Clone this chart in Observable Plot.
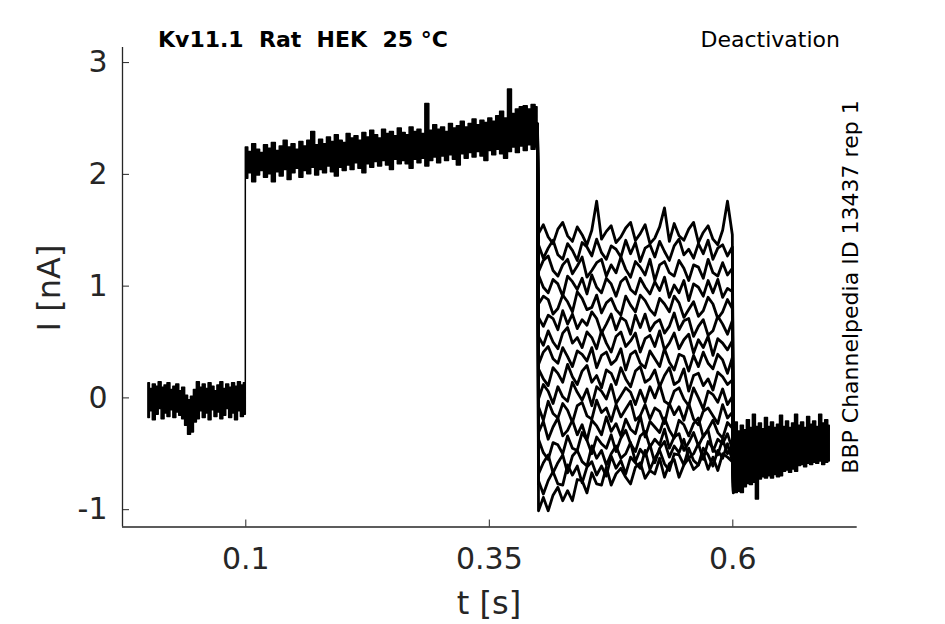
<!DOCTYPE html>
<html>
<head>
<meta charset="utf-8">
<script src="https://cdn.jsdelivr.net/npm/d3@7"></script>
<script src="https://cdn.jsdelivr.net/npm/@observablehq/plot@0.6"></script>
<style>
  html, body { margin: 0; padding: 0; background: #fff; }
  #chart { width: 945px; height: 624px; }
</style>
</head>
<body>
<div id="chart"></div>
<script>
// ---------- Data ----------
const xTicks = [0.1, 0.35, 0.6];
const xTickLabels = ["0.1", "0.35", "0.6"];
const yTicks = [-1, 0, 1, 2, 3];
const yTickLabels = ["-1", "0", "1", "2", "3"];

// holding period 0 – 0.1 s : noise envelope (nA)
const holdTimeRange = [0.0, 0.0995];
const holdHi = [0.13,0.08,0.12,0.10,0.14,0.09,0.11,0.13,0.07,0.10,0.12,0.06,0.09,0.02,-0.02,0.01,0.07,0.14,0.09,0.12,0.08,0.13,0.10,0.06,0.11,0.14,0.08,0.12,0.09,0.13,0.10,0.14,0.11,0.13];
const holdLo = [-0.18,-0.12,-0.20,-0.15,-0.10,-0.19,-0.14,-0.17,-0.11,-0.18,-0.13,-0.16,-0.19,-0.25,-0.33,-0.31,-0.22,-0.19,-0.12,-0.18,-0.14,-0.20,-0.11,-0.17,-0.13,-0.19,-0.16,-0.10,-0.18,-0.14,-0.20,-0.12,-0.17,-0.15];

// activation step 0.1 – 0.4 s : noise envelope (nA)
const actTimeRange = [0.1005, 0.3995];
const actHi = [2.24,2.20,2.27,2.22,2.19,2.26,2.23,2.28,2.21,2.25,2.30,2.24,2.27,2.22,2.29,2.25,2.30,2.38,2.26,2.31,2.27,2.33,2.29,2.35,2.30,2.28,2.36,2.32,2.34,2.30,2.37,2.33,2.39,2.35,2.32,2.40,2.36,2.38,2.34,2.41,2.37,2.35,2.42,2.38,2.40,2.36,2.63,2.39,2.44,2.40,2.42,2.38,2.45,2.41,2.43,2.47,2.42,2.45,2.49,2.44,2.48,2.46,2.50,2.47,2.52,2.56,2.50,2.76,2.54,2.58,2.60,2.61,2.58,2.62,2.60];
const actLo = [1.96,2.01,1.93,1.99,2.03,1.97,2.00,1.93,2.02,1.98,2.04,1.95,2.01,2.05,1.97,2.03,2.00,2.06,1.99,2.04,2.01,2.07,2.02,1.98,2.06,2.03,2.08,2.04,2.10,2.05,2.01,2.09,2.06,2.11,2.07,2.12,2.08,2.04,2.13,2.09,2.12,2.09,2.05,2.13,2.10,2.14,2.07,2.12,2.15,2.10,2.16,2.12,2.17,2.13,2.08,2.18,2.14,2.19,2.15,2.20,2.16,2.12,2.21,2.17,2.22,2.18,2.14,2.20,2.24,2.19,2.25,2.21,2.26,2.22,2.24];

// deactivation steps 0.4 – 0.6 s : one trace per test potential (nA)
const deactPrestep = 2.45;
const deactTimeRange = [0.4005, 0.5995];
const deactCurrents = [
  [1.47,1.55,1.44,1.38,1.51,1.57,1.45,1.40,1.53,1.46,1.37,1.50,1.76,1.42,1.49,1.54,1.39,1.44,1.52,1.57,1.41,1.47,1.55,1.38,1.43,1.53,1.70,1.40,1.56,1.45,1.41,1.51,1.57,1.39,1.48,1.54,1.42,1.37,1.50,1.76,1.46],
  [1.37,1.25,1.34,1.41,1.28,1.24,1.38,1.32,1.23,1.39,1.35,1.27,1.42,1.30,1.24,1.36,1.33,1.26,1.41,1.29,1.39,1.22,1.34,1.37,1.26,1.40,1.31,1.23,1.36,1.42,1.28,1.33,1.25,1.38,1.29,1.41,1.24,1.34,1.37,1.27,1.35],
  [1.13,1.23,1.27,1.14,1.09,1.19,1.24,1.11,1.18,1.26,1.08,1.14,1.21,1.24,1.09,1.19,1.12,1.26,1.15,1.08,1.22,1.17,1.10,1.24,1.05,1.19,1.22,1.12,1.09,1.23,1.16,1.05,1.19,1.17,1.07,1.24,1.12,1.09,1.21,1.10,1.16],
  [1.10,0.99,0.94,1.06,1.02,0.91,1.09,1.04,0.97,1.07,0.93,1.10,0.99,0.94,1.07,1.02,0.91,1.04,1.08,0.97,0.93,1.07,0.99,0.93,1.04,0.96,1.08,0.90,1.01,0.94,1.05,0.87,1.02,0.99,0.91,1.05,0.94,1.06,0.90,0.98,0.95],
  [0.84,0.91,0.88,0.75,0.80,0.92,0.86,0.77,0.95,0.89,0.79,0.81,0.92,0.76,0.85,0.89,0.79,0.74,0.91,0.83,0.77,0.92,0.87,0.79,0.74,0.89,0.84,0.77,0.91,0.85,0.72,0.79,0.86,0.73,0.78,0.90,0.84,0.71,0.77,0.88,0.80],
  [0.72,0.64,0.74,0.71,0.61,0.78,0.66,0.75,0.62,0.70,0.65,0.77,0.71,0.58,0.66,0.75,0.61,0.72,0.69,0.57,0.74,0.63,0.75,0.60,0.67,0.70,0.58,0.64,0.76,0.61,0.69,0.71,0.55,0.64,0.70,0.56,0.60,0.73,0.66,0.57,0.69],
  [0.55,0.47,0.60,0.50,0.44,0.58,0.63,0.49,0.54,0.45,0.59,0.54,0.44,0.60,0.49,0.41,0.55,0.59,0.46,0.51,0.58,0.41,0.53,0.56,0.46,0.60,0.43,0.49,0.58,0.44,0.52,0.57,0.40,0.52,0.45,0.55,0.38,0.53,0.49,0.43,0.51],
  [0.30,0.41,0.46,0.35,0.31,0.45,0.37,0.28,0.42,0.39,0.33,0.45,0.27,0.38,0.41,0.30,0.34,0.44,0.25,0.39,0.42,0.31,0.27,0.42,0.35,0.28,0.44,0.32,0.25,0.39,0.37,0.24,0.38,0.28,0.41,0.31,0.26,0.39,0.34,0.22,0.36],
  [0.26,0.17,0.11,0.27,0.22,0.14,0.30,0.19,0.12,0.24,0.29,0.14,0.20,0.09,0.25,0.22,0.12,0.27,0.17,0.10,0.24,0.28,0.14,0.17,0.25,0.10,0.20,0.27,0.12,0.15,0.26,0.06,0.20,0.22,0.11,0.17,0.07,0.23,0.19,0.12,0.16],
  [-0.01,0.12,0.06,-0.05,0.10,0.01,-0.03,0.14,0.05,-0.02,0.08,-0.07,0.10,0.06,-0.01,0.12,-0.05,0.02,0.09,0.05,-0.06,0.07,-0.04,0.10,0.00,0.12,-0.03,-0.06,0.06,0.09,-0.01,-0.07,0.09,0.00,-0.10,0.06,0.03,-0.04,0.08,-0.06,0.01],
  [-0.08,-0.20,-0.03,-0.14,-0.18,-0.05,-0.11,-0.22,-0.07,-0.04,-0.16,-0.19,-0.02,-0.13,-0.09,-0.21,-0.06,-0.17,-0.10,-0.03,-0.20,-0.16,-0.06,-0.19,-0.09,-0.12,-0.23,-0.05,-0.15,-0.08,-0.20,-0.05,-0.19,-0.24,-0.12,-0.09,-0.16,-0.23,-0.06,-0.18,-0.13],
  [-0.31,-0.21,-0.37,-0.26,-0.18,-0.34,-0.29,-0.20,-0.33,-0.24,-0.38,-0.20,-0.25,-0.33,-0.17,-0.30,-0.23,-0.34,-0.19,-0.28,-0.32,-0.16,-0.35,-0.21,-0.26,-0.31,-0.18,-0.29,-0.36,-0.20,-0.24,-0.34,-0.23,-0.18,-0.35,-0.28,-0.20,-0.31,-0.36,-0.22,-0.27],
  [-0.37,-0.49,-0.55,-0.40,-0.42,-0.50,-0.34,-0.45,-0.47,-0.31,-0.38,-0.50,-0.35,-0.41,-0.45,-0.33,-0.48,-0.36,-0.29,-0.41,-0.48,-0.34,-0.30,-0.44,-0.37,-0.42,-0.28,-0.45,-0.35,-0.32,-0.47,-0.40,-0.31,-0.43,-0.34,-0.29,-0.48,-0.37,-0.41,-0.32,-0.46],
  [-0.68,-0.58,-0.51,-0.67,-0.58,-0.51,-0.67,-0.52,-0.47,-0.57,-0.61,-0.43,-0.54,-0.47,-0.60,-0.50,-0.43,-0.54,-0.50,-0.40,-0.57,-0.46,-0.52,-0.42,-0.58,-0.45,-0.39,-0.53,-0.43,-0.49,-0.37,-0.54,-0.50,-0.41,-0.55,-0.39,-0.45,-0.51,-0.37,-0.50,-0.43],
  [-0.74,-0.86,-0.74,-0.66,-0.77,-0.78,-0.60,-0.69,-0.61,-0.76,-0.62,-0.57,-0.69,-0.61,-0.70,-0.52,-0.63,-0.56,-0.68,-0.53,-0.58,-0.63,-0.47,-0.64,-0.54,-0.47,-0.59,-0.65,-0.50,-0.51,-0.60,-0.45,-0.56,-0.60,-0.45,-0.51,-0.61,-0.47,-0.54,-0.41,-0.56],
  [-1.01,-0.89,-1.01,-0.87,-0.80,-0.92,-0.83,-0.92,-0.73,-0.74,-0.85,-0.67,-0.77,-0.78,-0.62,-0.78,-0.68,-0.63,-0.71,-0.77,-0.62,-0.58,-0.72,-0.65,-0.68,-0.54,-0.71,-0.59,-0.55,-0.71,-0.60,-0.54,-0.64,-0.60,-0.50,-0.64,-0.53,-0.65,-0.50,-0.53,-0.57]
];
const tailLevels = [-0.30,-0.34,-0.38,-0.42,-0.46,-0.50,-0.55,-0.60,-0.64,-0.68,-0.72,-0.76,-0.80,-0.83,-0.85,-0.84];

// tail period 0.6 – 0.7 s : noise envelope (nA)
const tailTimeRange = [0.6005, 0.6995];
const tailHi = [-0.28,-0.22,-0.30,-0.25,-0.29,-0.20,-0.27,-0.15,-0.26,-0.23,-0.28,-0.18,-0.26,-0.22,-0.27,-0.24,-0.16,-0.26,-0.21,-0.27,-0.23,-0.15,-0.25,-0.22,-0.27,-0.17,-0.24,-0.21,-0.26,-0.15,-0.23,-0.20,-0.25];
const tailLo = [-0.85,-0.85,-0.84,-0.85,-0.80,-0.77,-0.78,-0.76,-0.91,-0.73,-0.71,-0.72,-0.70,-0.72,-0.69,-0.71,-0.70,-0.66,-0.65,-0.67,-0.64,-0.66,-0.61,-0.60,-0.62,-0.59,-0.60,-0.58,-0.59,-0.57,-0.60,-0.58,-0.57];

// ---------- Build tables ----------
function envelope(range, lo, hi) {
  const n = lo.length;
  return lo.map((l, k) => ({t: range[0] + k * (range[1] - range[0]) / (n - 1), lo: l, hi: hi[k]}));
}
const band1 = envelope(holdTimeRange, holdLo, holdHi).concat(envelope(actTimeRange, actLo, actHi));
const band2 = envelope(tailTimeRange, tailLo, tailHi);

const deact = [];
deactCurrents.forEach((vals, j) => {
  deact.push({trace: j, t: actTimeRange[1], I: deactPrestep});
  vals.forEach((v, k) => deact.push({
    trace: j,
    t: deactTimeRange[0] + k * (deactTimeRange[1] - deactTimeRange[0]) / (vals.length - 1),
    I: v
  }));
  deact.push({trace: j, t: tailTimeRange[0], I: tailLevels[j]});
});

const xDomain = [-0.0266, 0.7277];
const yDomain = [-1.155, 3.135];
const axisColor = "#262626";
const font = "DejaVu Sans";

const plot = Plot.plot({
  width: 945,
  height: 624,
  marginLeft: 122,
  marginRight: 88.3,
  marginTop: 47,
  marginBottom: 97.5,
  style: {fontFamily: font, color: axisColor, background: "#fff", overflow: "visible"},
  x: {domain: xDomain},
  y: {domain: yDomain},
  marks: [
    Plot.areaY(band1, {x: "t", y1: "lo", y2: "hi", curve: "step", fill: "#000", stroke: "#000", strokeWidth: 1.5}),
    Plot.areaY(band2, {x: "t", y1: "lo", y2: "hi", curve: "step", fill: "#000", stroke: "#000", strokeWidth: 1.5}),
    Plot.line(deact, {x: "t", y: "I", z: "trace", stroke: "#000", strokeWidth: 2.8}),
    Plot.ruleY([yDomain[0]], {stroke: axisColor, strokeWidth: 1.3}),
    Plot.ruleX([xDomain[0]], {stroke: axisColor, strokeWidth: 1.3}),
    Plot.axisX({
      ticks: xTicks, tickSize: -7, tickPadding: 28, fontSize: 30, label: null,
      stroke: axisColor, fill: axisColor,
      tickFormat: (d) => xTickLabels[xTicks.indexOf(d)]
    }),
    Plot.axisY({
      ticks: yTicks, tickSize: -7, tickPadding: 22, fontSize: 30, label: null,
      stroke: axisColor, fill: axisColor,
      tickFormat: (d) => yTickLabels[yTicks.indexOf(d)]
    })
  ]
});

document.getElementById("chart").appendChild(plot);

// ---------- Text annotations ----------
const svg = d3.select(plot);
const addText = (str, x, y, opts = {}) => {
  const t = svg.append("text")
    .attr("x", x).attr("y", y)
    .attr("font-family", font)
    .attr("font-size", opts.size || 22)
    .attr("font-weight", opts.weight || "normal")
    .attr("fill", opts.color || "#000")
    .attr("text-anchor", opts.anchor || "start")
    .style("white-space", "pre")
    .text(str);
  if (opts.rotate) t.attr("transform", `rotate(${opts.rotate},${x},${y})`);
  return t;
};
addText("Kv11.1  Rat  HEK  25 °C", 158, 47, {weight: "bold", size: 22});
addText("Deactivation", 840, 47, {anchor: "end", size: 22});
addText("BBP Channelpedia ID 13437 rep 1", 858, 287, {anchor: "middle", size: 22, rotate: -90});
addText("t [s]", 489, 614, {anchor: "middle", size: 32, color: axisColor});
addText("I [nA]", 60, 288, {anchor: "middle", size: 32, color: axisColor, rotate: -90});
</script>
</body>
</html>
